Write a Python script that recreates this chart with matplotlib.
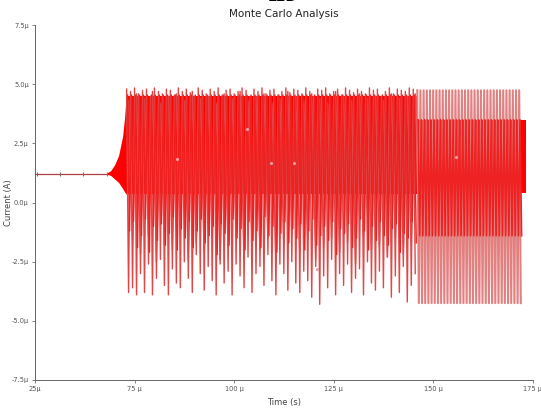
import numpy as np
import matplotlib
matplotlib.use("Agg")
import matplotlib.pyplot as plt

plt.rcParams['font.family'] = ['Liberation Sans Narrow', 'DejaVu Sans']

# time is in microseconds, current in microamps
x_ticks = [50, 75, 100, 125, 150, 175]
x_labels = ['25µ', '75 µ', '100 µ', '125 µ', '150 µ', '175 µ']
y_ticks = [7.5, 5.0, 2.5, 0.0, -2.5, -5.0, -7.5]
y_labels = ['7.5µ', '5.0µ', '2.5µ', '0.0µ', '-2.5µ', '-5.0µ', '-7.5µ']

# settled operating point before the oscillator starts
flat_t = [50, 68]
flat_i = [1.22, 1.22]
marker_t = [50.5, 56.25, 62.0, 68.0]
marker_i = [1.22, 1.22, 1.22, 1.22]

# start-up envelope of the runs
grow_t = [68, 69, 70, 71, 72, 72.5, 73]
grow_hi = [1.25, 1.35, 1.6, 2.0, 2.8, 3.6, 4.8]
grow_lo = [1.2, 1.15, 1.0, 0.85, 0.6, 0.45, 0.35]

# band where all the runs overlap
band_t = [73, 146, 146, 173.2]
band_lo = [0.35, 0.35, 0.4, 0.4]
band_hi = [4.5, 4.5, 3.5, 3.5]

# chaotic part, one cycle per microsecond from 73 us
chaos_start = 73.0
chaos_peaks = [4.8, 4.7, 4.85, 4.6, 4.75, 4.8, 4.5, 4.85, 4.7, 4.6,
               4.8, 4.75, 4.55, 4.85, 4.7, 4.8, 4.65, 4.5, 4.85, 4.75,
               4.6, 4.8, 4.7, 4.85, 4.55, 4.75, 4.8, 4.6, 4.7, 4.85,
               4.75, 4.5, 4.8, 4.7, 4.85, 4.6, 4.75, 4.8, 4.55, 4.7,
               4.85, 4.65, 4.8, 4.75, 4.6, 4.85, 4.7, 4.5, 4.8, 4.75,
               4.85, 4.6, 4.7, 4.8, 4.55, 4.85, 4.75, 4.65, 4.8, 4.7,
               4.6, 4.85, 4.75, 4.8, 4.5, 4.7, 4.85, 4.6, 4.8, 4.75,
               4.7, 4.85, 4.8]
chaos_troughs = [-3.8, -3.6, -3.9, -3.0, -3.8, -2.6, -3.9, -3.2, -2.4, -3.5,
                 -3.9, -2.8, -3.4, -3.6, -2.5, -3.2, -3.8, -2.2, -3.0, -3.7,
                 -2.7, -3.3, -3.9, -2.4, -3.4, -2.9, -3.9, -2.6, -3.1, -3.6,
                 -2.3, -3.8, -3.0, -2.7, -3.5, -2.2, -3.3, -3.9, -2.6, -3.0,
                 -3.7, -2.5, -3.4, -3.8, -2.9, -3.3, -4.0, -2.7, -4.3, -3.1,
                 -3.6, -2.4, -3.9, -3.0, -3.5, -2.6, -3.8, -3.2, -2.8, -3.9,
                 -2.5, -3.4, -3.7, -2.9, -3.6, -2.3, -4.0, -3.1, -3.8, -2.7,
                 -4.2, -3.5, -3.0]
# second group of runs, one cycle per 2 us
chaos2_peaks = [4.3, 4.6, 4.4, 4.7, 4.2, 4.5, 4.6, 4.3, 4.7, 4.4,
                4.5, 4.2, 4.6, 4.4, 4.7, 4.3, 4.5, 4.6, 4.2, 4.4,
                4.7, 4.5, 4.3, 4.6, 4.4, 4.2, 4.7, 4.5, 4.3, 4.6,
                4.4, 4.5, 4.3, 4.6, 4.4, 4.5, 4.6]
chaos2_troughs = [-1.6, -2.2, -1.4, -2.5, -1.8, -2.0, -1.3, -2.4, -1.7, -2.1,
                  -1.5, -2.6, -1.9, -1.4, -2.3, -1.7, -2.0, -1.5, -2.5, -1.8,
                  -1.3, -2.2, -1.6, -2.4, -1.9, -1.5, -2.1, -1.7, -2.6, -1.4,
                  -2.0, -1.8, -2.3, -1.5, -2.2, -1.7, -2.4]
# third group, shallow swings, one cycle per microsecond
chaos3_peak = 4.55
chaos3_troughs = [-1.2, -0.8, -1.9, -1.4, -0.7, -2.1, -1.0, -1.6, -0.9, -1.8,
                  -1.3, -0.6, -2.0, -1.1, -1.5, -0.8, -1.9, -1.2, -0.7, -1.7,
                  -1.4, -1.0, -2.2, -0.9, -1.3, -1.8, -0.7, -1.5, -1.1, -2.0,
                  -0.8, -1.6, -1.2, -1.9, -0.6, -1.4, -1.0, -2.1, -1.3, -0.8,
                  -1.7, -1.1, -1.5, -0.9, -2.0, -1.2, -0.7, -1.8, -1.4, -1.0,
                  -1.6, -0.8, -2.2, -1.1, -1.3, -0.9, -1.9, -1.5, -0.7, -1.2,
                  -2.0, -1.0, -1.6, -0.8, -1.4, -1.8, -1.1, -0.9, -2.1, -1.3,
                  -1.5, -0.8, -1.7]

# locked part after 146 us, regular cycles
lock_start = 146.0
lock_end = 173.2
lock_period = 0.8
lock_a = (4.75, -4.25)
lock_b = (3.5, -1.4)

# probe markers scattered on the traces
probe_t = [85.75, 103.25, 109.25, 115.0, 155.75, 120.75]
probe_i = [1.85, 3.1, 1.68, 1.68, 1.94, -2.8]


def zigzag(t0, period, peaks, troughs):
    # each cycle: up to the peak, down to the trough half a period later
    t, v = [], []
    for k in range(len(peaks)):
        t += [t0 + k * period, t0 + (k + 0.5) * period]
        v += [peaks[k], troughs[k]]
    return t, v


fig = plt.figure(figsize=(5.41, 4.12), dpi=100)
ax = fig.add_axes([0.0647, 0.0777, 0.920, 0.861])

ax.plot(flat_t, flat_i, color='#b04040', lw=0.9, zorder=3)
ax.plot(marker_t, marker_i, ls='none', marker='|', ms=3.5, mew=0.8,
        color='#707070', zorder=4)

ax.fill_between(grow_t, grow_lo, grow_hi, color='#ff0000', lw=0, zorder=2)
ax.fill_between(band_t, band_lo, band_hi, color='#ff0000', lw=0, zorder=2)

spike = '#e04848'
t, v = zigzag(chaos_start, 1.0, chaos_peaks, chaos_troughs)
ax.plot(t, v, color=spike, lw=1.0, zorder=2)
t, v = zigzag(chaos_start + 0.5, 2.0, chaos2_peaks, chaos2_troughs)
ax.plot(t, v, color=spike, lw=1.0, zorder=2)
t, v = zigzag(chaos_start + 0.25, 1.0, [chaos3_peak] * len(chaos3_troughs),
              chaos3_troughs)
ax.plot(t, v, color='#f02020', lw=1.0, zorder=2)

n_lock = int((lock_end - lock_start) / lock_period)
t, v = zigzag(lock_start, lock_period, [lock_a[0]] * n_lock, [lock_a[1]] * n_lock)
ax.plot(t, v, color='#e28080', lw=1.5, zorder=2)
t, v = zigzag(lock_start + lock_period / 4, lock_period,
              [lock_b[0]] * n_lock, [lock_b[1]] * n_lock)
ax.plot(t, v, color='#ee2222', lw=1.2, zorder=2)

ax.plot(probe_t, probe_i, ls='none', marker='.', ms=2.5, color='#e8a0a0', zorder=4)

ax.set_xlim(50, 175)
ax.set_ylim(-7.5, 7.5)
ax.set_xticks(x_ticks)
ax.set_xticklabels(x_labels)
ax.set_yticks(y_ticks)
ax.set_yticklabels(y_labels)
ax.tick_params(labelsize=4.8, colors='#555555', length=2.5, width=0.5, pad=2)
for side in ['top', 'right']:
    ax.spines[side].set_visible(False)
for side in ['left', 'bottom']:
    ax.spines[side].set_color('#666666')
    ax.spines[side].set_linewidth(0.7)

ax.set_title('Monte Carlo Analysis', fontsize=7.5, pad=6, color='#222222')
ax.set_xlabel('Time (s)', fontsize=6, color='#444444', labelpad=4)
ax.set_ylabel('Current (A)', fontsize=6, color='#444444')
ax.yaxis.set_label_coords(-0.045, 0.5)

# heading cut off at the top edge
fig.text(0.523, 0.998, 'LED', fontsize=10, fontweight='bold', ha='center',
         va='baseline', color='black')

fig.savefig('out.png', dpi=100)
